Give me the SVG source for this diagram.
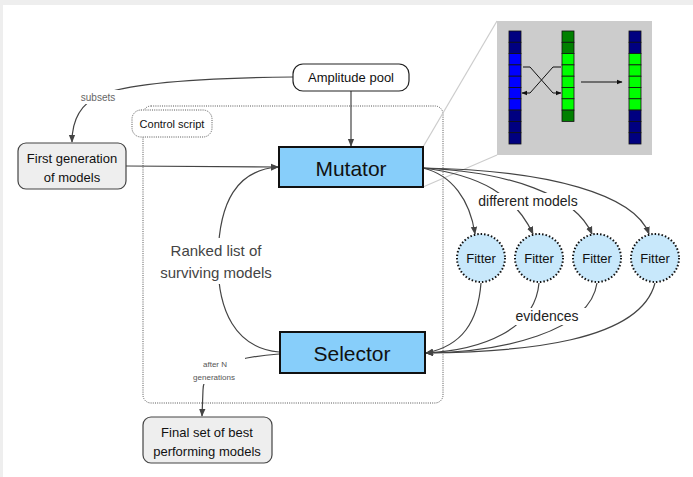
<svg xmlns="http://www.w3.org/2000/svg" width="693" height="477" viewBox="0 0 693 477">
<defs>
<marker id="ah" viewBox="0 0 10 10" refX="9" refY="5" markerWidth="8" markerHeight="8" markerUnits="userSpaceOnUse" orient="auto">
<path d="M0,1 L10,5 L0,9 z" fill="#444"/>
</marker>
<marker id="ahs" viewBox="0 0 10 10" refX="9" refY="5" markerWidth="6" markerHeight="6" markerUnits="userSpaceOnUse" orient="auto">
<path d="M0,1 L10,5 L0,9 z" fill="#111"/>
</marker>
<style>
text{font-family:"Liberation Sans",Arial,sans-serif;text-anchor:middle;dominant-baseline:central}
.conn{fill:none;stroke:#444;stroke-width:1.2}
.gray{fill:#eeeeee;stroke:#444;stroke-width:1.2}
.blue{fill:#87cefa;stroke:#111;stroke-width:2}
.fit{fill:#c8e8fb;stroke:#111;stroke-width:2;stroke-dasharray:1.5 2}
.n{fill:#000080;stroke:#111;stroke-width:0.8}
.b{fill:#0000ff;stroke:#111;stroke-width:0.8}
.dg{fill:#008000;stroke:#111;stroke-width:0.8}
.g{fill:#00ff00;stroke:#111;stroke-width:0.8}
</style>
</defs>
<rect x="0" y="0" width="693" height="477" fill="#eeeeee"/>
<rect x="3" y="5" width="690" height="472" fill="#ffffff"/>

<g id="control-script">
<rect x="143" y="106" width="300" height="297" rx="8" fill="none" stroke="#555" stroke-width="1" stroke-dasharray="1 1.2"/>
<rect x="132" y="110" width="80" height="27" rx="9" fill="#fff" stroke="#555" stroke-width="1" stroke-dasharray="1 1.2"/>
<text x="172" y="124" font-size="11" fill="#111">Control script</text>
</g>

<g id="zoom-lines">
<line x1="423" y1="147" x2="497" y2="21" stroke="#cccccc" stroke-width="1.2"/>
<line x1="423" y1="187" x2="497" y2="155" stroke="#cccccc" stroke-width="1.2"/>
</g>

<g id="inset">
<rect x="497" y="21" width="155" height="134" fill="#cccccc"/>
<g>
<rect class="n" x="509" y="31" width="12" height="11.3"/>
<rect class="n" x="509" y="42.3" width="12" height="11.3"/>
<rect class="b" x="509" y="53.6" width="12" height="11.3"/>
<rect class="b" x="509" y="64.9" width="12" height="11.3"/>
<rect class="b" x="509" y="76.2" width="12" height="11.3"/>
<rect class="b" x="509" y="87.5" width="12" height="11.3"/>
<rect class="b" x="509" y="98.8" width="12" height="11.3"/>
<rect class="n" x="509" y="110.1" width="12" height="11.3"/>
<rect class="n" x="509" y="121.4" width="12" height="11.3"/>
<rect class="n" x="509" y="132.7" width="12" height="11.3"/>
</g>
<g>
<rect class="dg" x="562" y="31" width="12" height="11.3"/>
<rect class="dg" x="562" y="42.3" width="12" height="11.3"/>
<rect class="g" x="562" y="53.6" width="12" height="11.3"/>
<rect class="g" x="562" y="64.9" width="12" height="11.3"/>
<rect class="g" x="562" y="76.2" width="12" height="11.3"/>
<rect class="g" x="562" y="87.5" width="12" height="11.3"/>
<rect class="g" x="562" y="98.8" width="12" height="11.3"/>
<rect class="dg" x="562" y="110.1" width="12" height="11.3"/>
</g>
<g>
<rect class="n" x="629" y="31" width="12" height="11.3"/>
<rect class="n" x="629" y="42.3" width="12" height="11.3"/>
<rect class="g" x="629" y="53.6" width="12" height="11.3"/>
<rect class="g" x="629" y="64.9" width="12" height="11.3"/>
<rect class="g" x="629" y="76.2" width="12" height="11.3"/>
<rect class="g" x="629" y="87.5" width="12" height="11.3"/>
<rect class="g" x="629" y="98.8" width="12" height="11.3"/>
<rect class="n" x="629" y="110.1" width="12" height="11.3"/>
<rect class="n" x="629" y="121.4" width="12" height="11.3"/>
<rect class="n" x="629" y="132.7" width="12" height="11.3"/>
</g>
<path d="M523,67 L530,67 L553,93 L561,93" fill="none" stroke="#111" stroke-width="1" marker-end="url(#ahs)"/>
<path d="M561,67 L553,67 L530,93 L522,93" fill="none" stroke="#111" stroke-width="1" marker-end="url(#ahs)"/>
<line x1="581" y1="82" x2="622" y2="82" stroke="#111" stroke-width="1" marker-end="url(#ahs)"/>
</g>

<g id="connectors">
<path class="conn" d="M293,77 C200,78 130,83 100,95 C80,104 72,120 72,142" marker-end="url(#ah)"/>
<path class="conn" d="M351,91 L351,146" marker-end="url(#ah)"/>
<path class="conn" d="M126,166 L278,167" marker-end="url(#ah)"/>
<path class="conn" d="M279,352 C235,348 218,310 218,262 C218,200 238,170 278,167" marker-end="url(#ah)"/>
<path class="conn" d="M279,354 C235,357 203,368 203,390 L202,416" marker-end="url(#ah)"/>
<path class="conn" d="M423,168 C452,175 470,200 475,234" marker-end="url(#ah)"/>
<path class="conn" d="M423,168 C480,175 515,195 533,234" marker-end="url(#ah)"/>
<path class="conn" d="M423,168 C510,172 575,195 592,234" marker-end="url(#ah)"/>
<path class="conn" d="M423,168 C550,170 635,195 649,234" marker-end="url(#ah)"/>
<path class="conn" d="M481,283 C478,322 462,346 426,353" marker-end="url(#ah)"/>
<path class="conn" d="M539,283 C535,330 482,350 426,353" marker-end="url(#ah)"/>
<path class="conn" d="M597,283 C590,332 502,352 426,353" marker-end="url(#ah)"/>
<path class="conn" d="M655,283 C640,342 522,352 426,353" marker-end="url(#ah)"/>
</g>

<g id="labels">
<rect x="77" y="90" width="42" height="14" fill="#fff"/>
<text x="98" y="97" font-size="10" fill="#666">subsets</text>
<rect x="164" y="238" width="106" height="46" fill="#fff"/>
<text x="216" y="250" font-size="15" fill="#444">Ranked list of</text>
<text x="216" y="272" font-size="15" fill="#444">surviving models</text>
<rect x="185" y="356" width="60" height="28" fill="#fff"/>
<text x="215" y="364" font-size="8" fill="#555">after N</text>
<text x="214" y="377" font-size="8" fill="#555">generations</text>
<rect x="473" y="193" width="110" height="17" fill="#fff"/>
<text x="528" y="201" font-size="14" fill="#222">different models</text>
<rect x="508" y="308" width="80" height="17" fill="#fff"/>
<text x="547" y="316" font-size="14" fill="#222">evidences</text>
</g>

<g id="amplitude-pool">
<rect x="293" y="64" width="116" height="27" rx="10" fill="#fff" stroke="#222" stroke-width="1.2"/>
<text x="351" y="77.5" font-size="13" fill="#111">Amplitude pool</text>
</g>

<g id="first-generation">
<rect class="gray" x="18" y="143" width="108" height="46" rx="8"/>
<text x="72" y="158" font-size="13" fill="#111">First generation</text>
<text x="72" y="177" font-size="13" fill="#111">of models</text>
</g>

<g id="mutator">
<rect class="blue" x="279" y="147" width="144" height="40"/>
<text x="351" y="168" font-size="21" fill="#111">Mutator</text>
</g>

<g id="selector">
<rect class="blue" x="280" y="332" width="145" height="41"/>
<text x="352" y="353" font-size="21" fill="#111">Selector</text>
</g>

<g id="final-set">
<rect class="gray" x="143" y="417" width="129" height="46" rx="8"/>
<text x="207" y="432" font-size="13" fill="#111">Final set of best</text>
<text x="207" y="451" font-size="13" fill="#111">performing models</text>
</g>

<g id="fitter1"><circle class="fit" cx="481" cy="258" r="24"/><text x="481" y="258" font-size="13" fill="#111">Fitter</text></g>
<g id="fitter2"><circle class="fit" cx="539" cy="258" r="24"/><text x="539" y="258" font-size="13" fill="#111">Fitter</text></g>
<g id="fitter3"><circle class="fit" cx="597" cy="258" r="24"/><text x="597" y="258" font-size="13" fill="#111">Fitter</text></g>
<g id="fitter4"><circle class="fit" cx="655" cy="258" r="24"/><text x="655" y="258" font-size="13" fill="#111">Fitter</text></g>
</svg>
